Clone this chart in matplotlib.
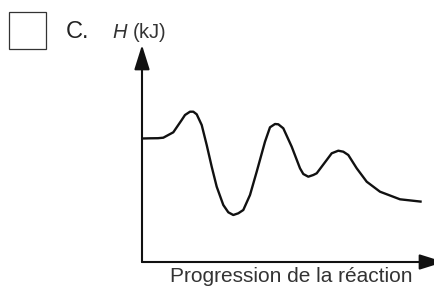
import matplotlib
matplotlib.use("Agg")
from matplotlib import pyplot as plt
from matplotlib.patches import Rectangle

plt.rcParams['font.family'] = ['Liberation Sans', 'DejaVu Sans']
plt.rcParams['mathtext.fontset'] = 'custom'
plt.rcParams['mathtext.it'] = 'Liberation Sans:italic'
plt.rcParams['mathtext.rm'] = 'Liberation Sans'

# Curve (progress vs enthalpy, arbitrary units)
progress = [0, 8, 16, 21.3, 31.3, 39.7, 43, 48, 51.3, 54.7, 59.7, 64.7, 69.7,
            74.7, 81.3, 86.3, 91.3, 96.3, 101.3, 108, 114.7, 123, 128, 133,
            136.3, 141.3, 149.7, 158, 161.3, 166.3, 171.3, 174.7, 184.7,
            189.7, 196.3, 201.3, 206.3, 214.7, 224.7, 238, 258, 279.7]
enthalpy = [123.5, 123.7, 123.8, 124.3, 129.7, 142, 147, 150.3, 150.3, 147.7,
            137, 117, 95.3, 75.3, 57, 49.7, 47, 48.7, 52, 67, 90.3, 120.3,
            134.7, 138, 137.7, 133.7, 115.3, 93.7, 88, 85.3, 87, 88.7, 102,
            108.7, 111.3, 110.3, 107, 93.7, 80.3, 70.3, 62.7, 60.3]

W, H = 435, 296
fig = plt.figure(figsize=(W / 100, H / 100), dpi=100)
ax = fig.add_axes([142 / W, 34 / H, 293 / W, 217 / H])
ax.set_xlim(0, 293)
ax.set_ylim(0, 217)
ax.axis('off')

ax.plot(progress, enthalpy, color='#111111', lw=1.7,
        solid_joinstyle='round', solid_capstyle='butt')

# axes with arrow heads
arrow = dict(arrowstyle='-|>,head_length=1.5,head_width=0.47', lw=1.5,
             color='#111111', shrinkA=0, shrinkB=0)
ax.annotate('', xy=(0, 217), xytext=(0, 0), arrowprops=arrow,
            annotation_clip=False)
ax.annotate('', xy=(302, 0), xytext=(0, 0), arrowprops=arrow,
            annotation_clip=False)

# labels
fig.text(291 / W, 1 - 277 / H, 'Progression de la réaction', fontsize=15,
         color='#333333', ha='center', va='center')
fig.text(112 / W, 1 - 32 / H, r'$\mathit{H}$ (kJ)', fontsize=14.5,
         color='#333333', ha='left', va='center')
fig.text(66 / W, 1 - 32 / H, 'C.', fontsize=17, color='#222222',
         ha='left', va='center')

# answer box
fig.patches.append(Rectangle((9.5 / W, 1 - 48.5 / H), 37 / W, 37 / H,
                             transform=fig.transFigure, fill=False,
                             edgecolor='#333333', lw=0.9))

fig.savefig('out.png', dpi=100)
